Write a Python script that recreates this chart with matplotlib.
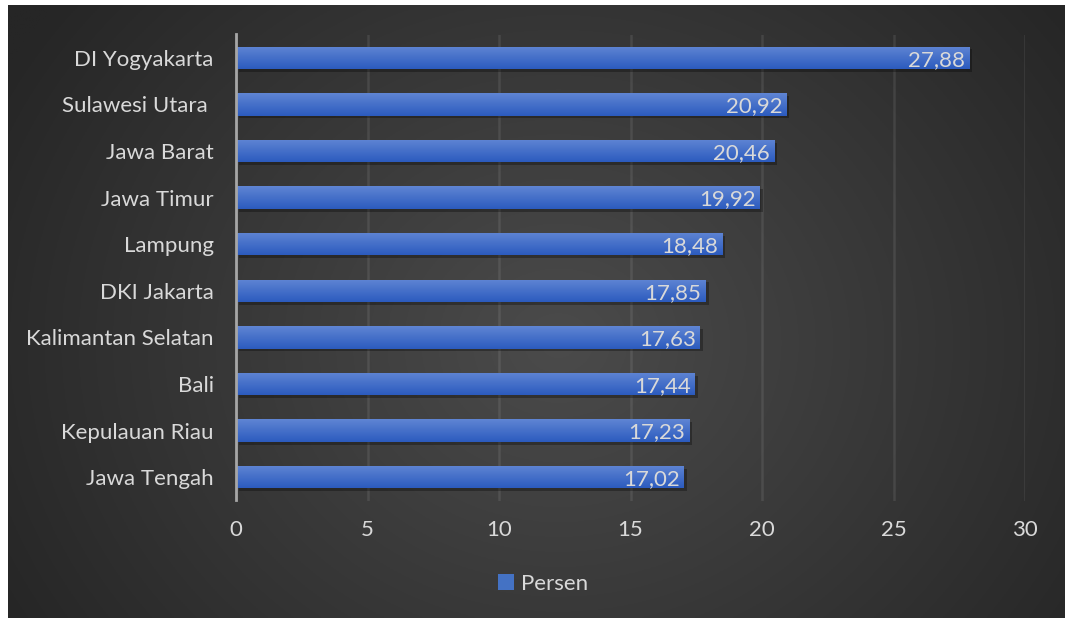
import numpy as np
import matplotlib
matplotlib.use("Agg")
import matplotlib.pyplot as plt
from matplotlib.patches import Patch

categories = ["DI Yogyakarta", "Sulawesi Utara ", "Jawa Barat", "Jawa Timur", "Lampung",
              "DKI Jakarta", "Kalimantan Selatan", "Bali", "Kepulauan Riau", "Jawa Tengah"]
values = [27.88, 20.92, 20.46, 19.92, 18.48, 17.85, 17.63, 17.44, 17.23, 17.02]
labels = ["27,88", "20,92", "20,46", "19,92", "18,48", "17,85", "17,63", "17,44", "17,23", "17,02"]
xticks = [0, 5, 10, 15, 20, 25, 30]
series_name = "Persen"

plt.rcParams['font.family'] = ['Lato', 'DejaVu Sans']
txt = '#d9d9d9'
fs = 16

fig = plt.figure(figsize=(10.65, 6.18), dpi=100)
fig.patch.set_facecolor('white')

# background radial gradient
bg = fig.add_axes([8/1065, 0, 1 - 8/1065, 1 - 5/618], zorder=-10)
ny, nx = 300, 520
yy, xx = np.mgrid[0:ny, 0:nx]
cx, cy = nx * 0.52, ny * 0.55
r = np.sqrt(((xx - cx) / (nx * 0.6)) ** 2 + ((yy - cy) / (ny * 0.9)) ** 2)
r = np.clip(r, 0, 1)
c0, c1 = np.array([0x4b, 0x4b, 0x4b]) / 255, np.array([0x26, 0x26, 0x26]) / 255
img = c0[None, None, :] * (1 - r[..., None]) + c1[None, None, :] * r[..., None]
bg.imshow(img, aspect='auto', extent=[0, 1, 0, 1])
bg.set_axis_off()

ax = fig.add_axes([236/1065, 1 - 500.5/618, (1025 - 236)/1065, (500.5 - 34.5)/618])
ax.patch.set_alpha(0)
ypos = np.arange(len(categories))
h = 0.48

# shadow
ax.barh(ypos + 0.06, values, height=h, left=0.12, color='black', alpha=0.3, zorder=2)
bars = ax.barh(ypos, values, height=h, color='#4472C4', zorder=3)

# gradient overlay per bar
grad = np.linspace(0, 1, 64)[:, None]
top_c = np.array([0x5f, 0x85, 0xd4]) / 255
bot_c = np.array([0x2c, 0x5b, 0xbe]) / 255
gimg = top_c[None, None, :] * (1 - grad[..., None]) + bot_c[None, None, :] * grad[..., None]
for b in bars:
    x0, y0 = b.get_x(), b.get_y()
    w, hh = b.get_width(), b.get_height()
    im = ax.imshow(gimg, aspect='auto', extent=[x0, x0 + w, y0 + hh, y0], zorder=4)
    im.set_clip_path(b)

for yv, v, lab in zip(ypos, values, labels):
    ax.text(v - 0.15, yv + 0.04, lab, ha='right', va='center', color=txt, fontsize=fs, zorder=5)

ax.set_xlim(0, 30)
ax.set_ylim(len(categories) - 0.5, -0.5)
ax.set_xticks(xticks)
ax.set_xticklabels([str(t) for t in xticks], color=txt, fontsize=fs)
ax.set_yticks(ypos)
ax.set_yticklabels(categories, color=txt, fontsize=fs)
ax.tick_params(axis='both', length=0)
ax.tick_params(axis='x', pad=14)
ax.tick_params(axis='y', pad=16)
ax.grid(axis='x', color='white', alpha=0.09, linewidth=1.8, zorder=0)
ax.set_axisbelow(True)
for s in ['top', 'right', 'bottom']:
    ax.spines[s].set_visible(False)
ax.spines['left'].set_color('#a6a6a6')
ax.spines['left'].set_linewidth(2)
ax.spines['left'].set_zorder(6)

leg = fig.legend(handles=[Patch(facecolor='#4472C4', label=series_name)],
                 loc='center', bbox_to_anchor=(543/1065, 1 - 584/618), frameon=False,
                 fontsize=fs, handlelength=0.7, handleheight=0.7, handletextpad=0.3)
for t in leg.get_texts():
    t.set_color(txt)

fig.savefig('out.png', dpi=100, facecolor=fig.get_facecolor())
